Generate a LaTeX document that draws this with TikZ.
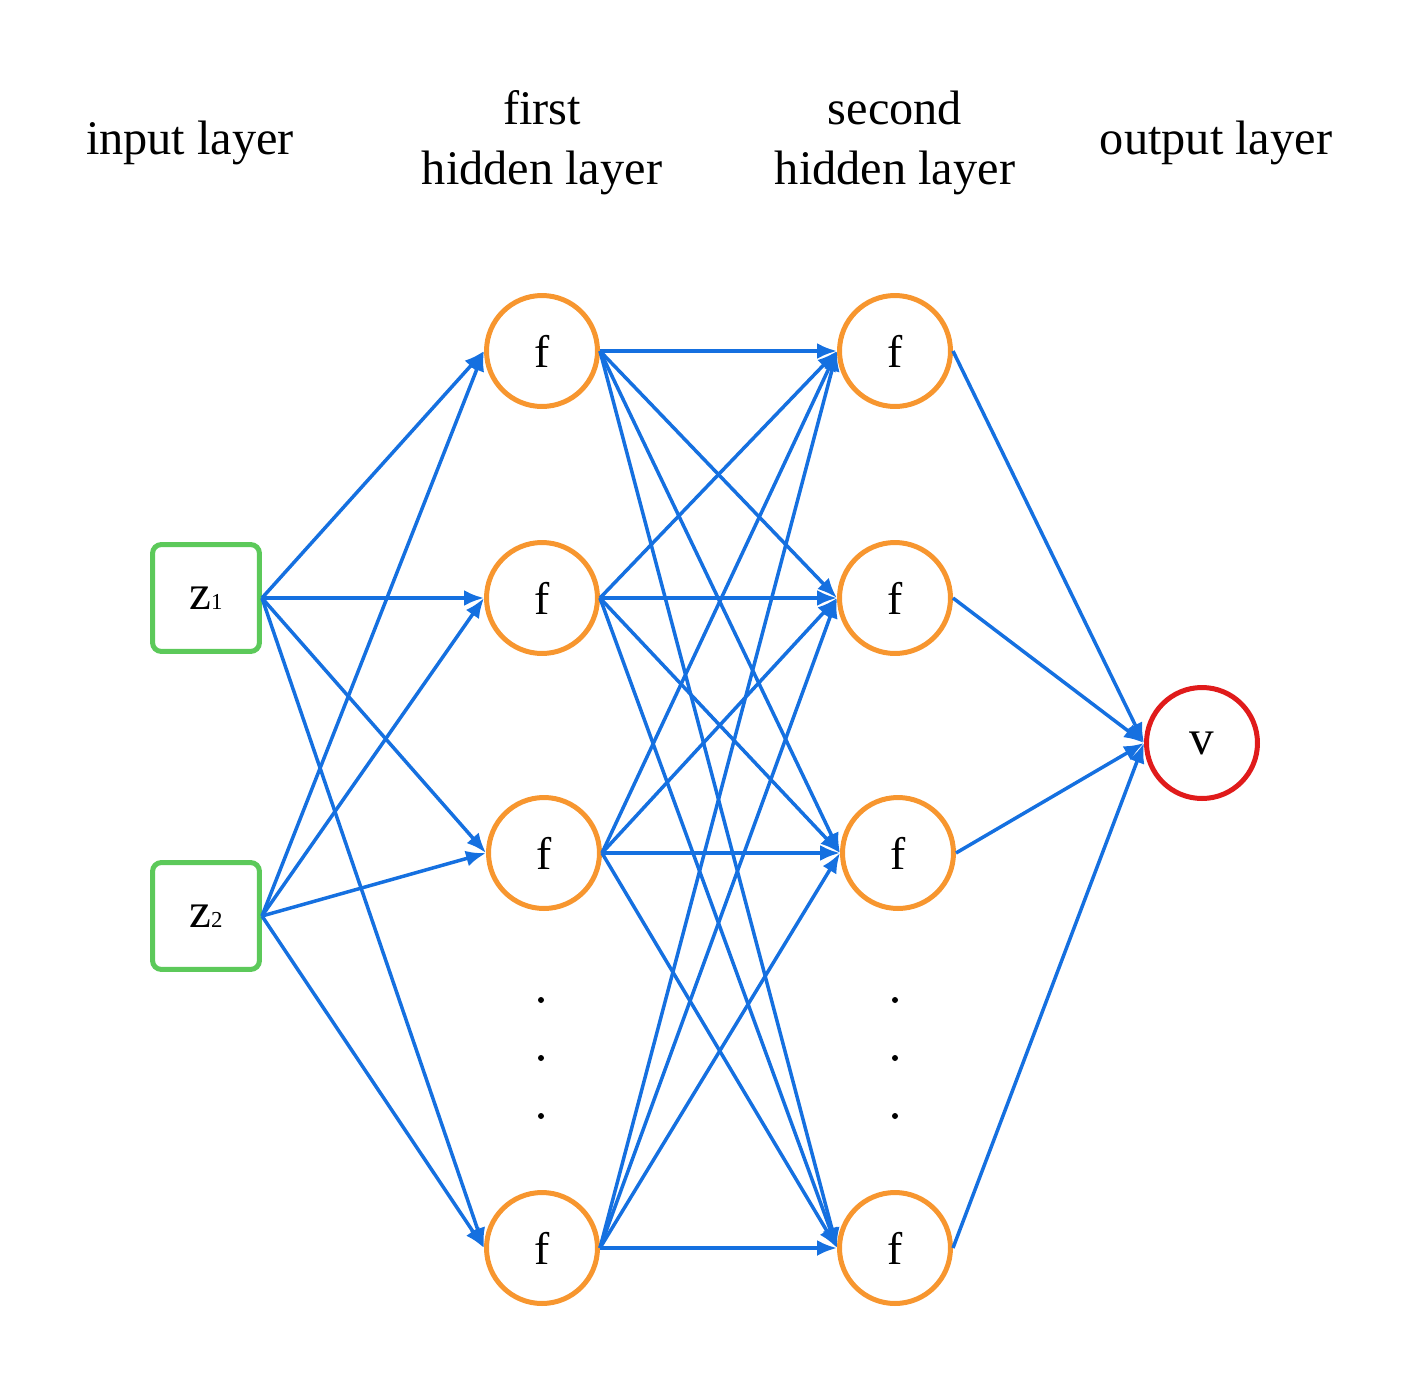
\documentclass[tikz,border=0pt]{standalone}
\usepackage{fontspec}
\setmainfont{Liberation Serif}
\usetikzlibrary{arrows.meta}

\definecolor{wireblue}{HTML}{1570E0}
\definecolor{unitorange}{HTML}{F7962F}
\definecolor{inputgreen}{HTML}{5CC95A}
\definecolor{outputred}{HTML}{E01B1B}

\newcommand{\zsub}[1]{{\fontsize{13}{13}\selectfont#1}}

\tikzset{
  unit/.style={circle,draw=unitorange,line width=0.1cm,minimum size=2.22cm,inner sep=0pt,
    font=\fontsize{26}{30}\selectfont},
  inputbox/.style={rectangle,rounded corners=0.18cm,draw=inputgreen,line width=0.1cm,
    minimum size=2.14cm,inner sep=0pt,font=\fontsize{28}{30}\selectfont},
  outunit/.style={circle,draw=outputred,line width=0.1cm,minimum size=2.22cm,inner sep=0pt,
    font=\fontsize{28}{30}\selectfont},
  wire/.style={draw=wireblue,line width=0.07cm,-{Latex[length=0.4cm,width=0.32cm]}},
  layertitle/.style={align=center,font=\fontsize{27.5}{34}\selectfont},
  vdot/.style={circle,fill=black,inner sep=0pt,minimum size=0.12cm}
}

\begin{document}
\begin{tikzpicture}[x=0.02cm,y=-0.02cm]
\useasboundingbox (0,0) rectangle (1418,1380);

% layer titles
\node[layertitle] (tin) at (190,143) {input layer};
\node[layertitle] (th1) at (542,143) {first\\hidden layer};
\node[layertitle] (th2) at (895,143) {second\\hidden layer};
\node[layertitle] (tout) at (1216,143) {output layer};

% inputs
\node[inputbox] (z1) at (206,598) {z\zsub{1}};
\node[inputbox] (z2) at (206,916) {z\zsub{2}};

% hidden units
\node[unit] (a1) at (542,351) {f};
\node[unit] (a2) at (542,598) {f};
\node[unit] (a3) at (544,853) {f};
\node[unit] (a4) at (542,1248) {f};
\node[unit] (b1) at (895,351) {f};
\node[unit] (b2) at (895,598) {f};
\node[unit] (b3) at (898,853) {f};
\node[unit] (b4) at (895,1248) {f};

% output
\node[outunit] (v) at (1202,743) {v};

% dots
\foreach \y [count=\k] in {1000,1058,1116} {
  \node[vdot] (da\k) at (541,\y) {};
  \node[vdot] (db\k) at (895,\y) {};
}

% connections
\foreach \i in {1,2}
  \foreach \j in {1,...,4}
    \draw[wire] (z\i.east) -- (a\j.west);
\foreach \i in {1,...,4}
  \foreach \j in {1,...,4}
    \draw[wire] (a\i.east) -- (b\j.west);
\foreach \i in {1,...,4}
  \draw[wire] (b\i.east) -- (v.west);

\end{tikzpicture}
\end{document}
